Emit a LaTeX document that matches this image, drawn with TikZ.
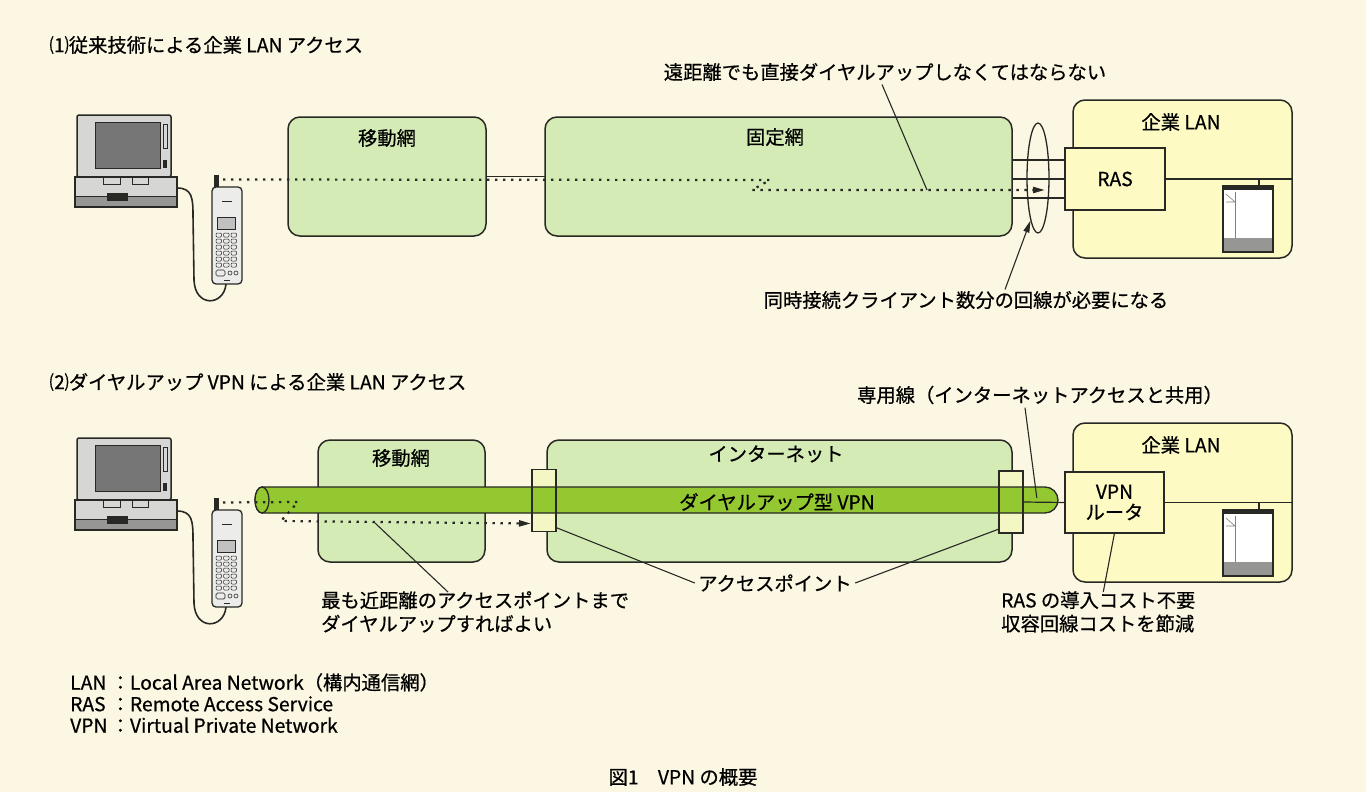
\documentclass[tikz,border=0pt]{standalone}
\usepackage{fontspec}
\setmainfont{Noto Sans CJK JP}[FakeBold=0.6]
\usepackage{tikz}
\usetikzlibrary{arrows.meta,shapes.geometric,calc}

\definecolor{bgcream}{RGB}{252,247,226}
\definecolor{netgreen}{RGB}{212,235,182}
\definecolor{lanyellow}{RGB}{253,250,196}
\definecolor{tubegreen}{RGB}{148,200,48}
\definecolor{appale}{RGB}{244,247,196}
\definecolor{edge}{RGB}{40,40,36}
\definecolor{lapgray}{RGB}{214,214,212}
\definecolor{screengray}{RGB}{118,118,118}
\definecolor{basegray}{RGB}{150,150,148}
\definecolor{phonegray}{RGB}{236,236,234}

\begin{document}
\begin{tikzpicture}[x=1pt,y=1pt,yscale=-1,
  font=\fontsize{19.3}{23.5}\selectfont,
  netbox/.style={draw=edge,fill=netgreen,line width=1.5pt,rounded corners=12pt,inner sep=0pt,outer sep=0pt},
  lanbox/.style={netbox,fill=lanyellow},
  devbox/.style={draw=edge,fill=lanyellow,line width=1.3pt,inner sep=0pt,outer sep=0pt,align=center},
  apbox/.style={draw=edge,fill=appale,line width=1.2pt,inner sep=0pt,outer sep=0pt,minimum width=24pt,minimum height=62pt},
  srvbox/.style={draw=edge,fill=white,line width=1.2pt,inner sep=0pt,outer sep=0pt,minimum width=50pt,minimum height=66pt},
  wire/.style={draw=edge,line width=1.2pt},
  leader/.style={draw=edge,line width=1.1pt},
  dialpath/.style={draw=edge,line width=2.2pt,dash pattern=on 2.4pt off 5.6pt},
  tip/.style={-{Triangle[length=12pt,width=6pt]}},
  txt/.style={inner sep=1pt},
]
\useasboundingbox (0,0) rectangle (1366,792);
\fill[bgcream] (0,0) rectangle (1366,792);

% laptop and handset, one per part
\foreach \oy [count=\i] in {0,323}{
\begin{scope}[shift={(0,\oy)}]
%Laptop lid
\draw[draw=edge,fill=lapgray,line width=1.5pt,rounded corners=2pt] (77,115) rectangle (171,177);
\draw[draw=edge,fill=screengray,line width=0.8pt] (95,122) rectangle (160,168);
\draw[edge,line width=0.6pt] (163,124) rectangle (167,148);
\fill[edge] (163,160) rectangle (167,168);
%Laptop base
\fill[lapgray] (75,177) rectangle (177,207);
\fill[basegray] (75,196) rectangle (177,207);
\draw[edge,line width=0.8pt] (75,196) -- (177,196);
\draw[edge,line width=1.5pt] (75,177) rectangle (177,207);
\draw[edge,line width=0.8pt] (103,177) rectangle (120,184) (132,177) rectangle (148,184);
\fill[edge] (107,193) rectangle (128,201);
%Cord
\draw[edge,line width=1.6pt] (177,188) .. controls (192,188) and (193,198) .. (193,215) -- (194,280) .. controls (195,308) and (224,306) .. (226,284);
%Handset
\fill[edge] (214,175) rectangle (219,188);
\draw[draw=edge,fill=phonegray,line width=1.3pt,rounded corners=4pt] (212,187) rectangle (242,284);
\draw[edge,line width=0.8pt] (222,201) -- (232,201);
\draw[draw=edge,fill=screengray!45,line width=0.7pt] (217,217) rectangle (235,229);
\foreach \c in {0,1,2}
  \foreach \r in {0,...,5}
    \draw[edge,line width=0.5pt,rounded corners=1pt] ({216+\c*7.5},{233+\r*6}) rectangle +(5.5,4);
\draw[edge,line width=0.7pt,rounded corners=1.5pt] (216,270) rectangle (225,276);
\draw[edge,line width=0.6pt] (230,273) circle (2) (236,273) circle (2);
\draw[edge,line width=0.8pt] (224,280) -- (230,280);
\coordinate (ant\i) at (223,179.5);
\end{scope}
}

%Part 1: networks
\node[netbox,minimum width=198pt,minimum height=119pt] (mob1) at (387,176.5) {};
\node[netbox,minimum width=467pt,minimum height=119pt] (fix1) at (778.5,176.5) {};
\node[lanbox,minimum width=219pt,minimum height=158pt] (lan1) at (1182.5,179) {};
\node[devbox,minimum width=100pt,minimum height=62pt] (ras) at (1115,179) {RAS};
\draw[wire] (mob1.east) -- (fix1.west);
\foreach \dy in {-19,0,19}{
  \path ($(ras.west)+(0,\dy)$) coordinate (line);
  \draw[wire] (line) -- (line -| fix1.east);
}
\node[draw=edge,line width=1.3pt,ellipse,minimum width=22pt,minimum height=110pt,inner sep=0pt] (bundle) at (1038,178) {};

%Part 2: networks
\node[netbox,minimum width=167pt,minimum height=122pt] (mob2) at (401.5,501) {};
\node[netbox,minimum width=465pt,minimum height=122pt] (inet) at (779.5,501) {};
\node[lanbox,minimum width=219pt,minimum height=159pt] (lan2) at (1182.5,502.5) {};
\node[devbox,minimum width=99pt,minimum height=61pt] (vpnr) at (1114.5,502.5) {VPN\\[-3pt]ルータ};
\node[apbox] (apL) at (544,500.5) {};
\node[apbox] (apR) at (1011,502) {};

% tunnel
\draw[draw=edge,fill=tubegreen,line width=1.3pt] (262,487) -- (1045,487)
  arc[start angle=-90,end angle=90,radius=13] -- (262,513)
  arc[start angle=90,end angle=270,x radius=7,y radius=13] -- cycle;
\draw[draw=edge,fill=tubegreen,line width=1.3pt] (262,500) ellipse[x radius=7,y radius=13];
\draw[edge,line width=1.2pt] (apL.south west) rectangle (apL.north east);
\draw[edge,line width=1.2pt] (apR.south west) rectangle (apR.north east);
\draw[wire] (apR.east) -- (vpnr.west);

% LAN side: router/RAS to server
\foreach \s/\d in {1/ras,2/vpnr}{
  \node[srvbox,anchor=south east] (srv\s) at ($(lan\s.south east)+(-19,-6)$) {};
  \fill[edge] (srv\s.north west) rectangle ($(srv\s.north east)+(0,4)$);
  \fill[basegray] ($(srv\s.south west)+(0,-14)$) rectangle (srv\s.south east);
  \draw[edge,line width=1.2pt] (srv\s.south west) rectangle (srv\s.north east);
  \draw[gray,line width=0.6pt] ($(srv\s.north west)+(12,6)$) -- ($(srv\s.south west)+(12,-14)$);
  \draw[gray,line width=0.6pt] ($(srv\s.north west)+(3,8)$) -- ($(srv\s.north west)+(12,16)$) -- ($(srv\s.north west)+(3,16)$);
  \draw[wire] (\d.east) -- (\d.east -| lan\s.east);
  \path ($(srv\s.north east)+(-14,0)$) coordinate (stub);
  \draw[wire] (stub) -- (stub |- \d.east);
}

% dial-up paths
\coordinate (longway) at (927,190);
\coordinate (dial) at (375,523);
\draw[dialpath,tip] (ant1) -- (770,180) -- (752,190) -- ($(bundle.center)+(7,12)$);
\draw[dialpath,tip] (ant2) -- (298,502) -- (281,521) -- ($(apL.west)+(-1,23)$);

% Text Node
\node (t1) [anchor=west] at (46,45) {⑴従来技術による企業 LAN アクセス};
\node (t2) [anchor=west] at (46,382) {⑵ダイヤルアップ VPN による企業 LAN アクセス};
\node (mob1t) at (387,138) {移動網};
\node (fix1t) at (775,137) {固定網};
\node (lan1t) at (1181,122) {企業 LAN};
\node (far) at (885,72) {遠距離でも直接ダイヤルアップしなくてはならない};
\node (need) at (966,300) {同時接続クライアント数分の回線が必要になる};
\node (mob2t) at (401,458) {移動網};
\node (inett) at (776,454) {インターネット};
\node (lan2t) at (1181,445) {企業 LAN};
\node (vpnt) at (777,502) {ダイヤルアップ型 VPN};
\node (lease) at (1040,395) {専用線（インターネットアクセスと共用）};
\node (near) [anchor=north west,align=left,txt] at (320,590) {最も近距離のアクセスポイントまで\\ダイヤルアップすればよい};
\node (ap) at (775,583) {アクセスポイント};
\node (cost) [anchor=north west,align=left,txt] at (1000,590) {RAS の導入コスト不要\\収容回線コストを節減};
\node (legend) [anchor=north west,inner sep=0pt] at (70,673) {\begin{tabular}{@{}l@{\,：}l@{}}
LAN & Local Area Network（構内通信網）\\[-2pt]
RAS & Remote Access Service\\[-2pt]
VPN & Virtual Private Network
\end{tabular}};
\node (caption) at (683,777) {図1　VPN の概要};

% leaders
\draw[leader] ($(far.south)+(-3,0)$) -- (longway);
\draw[leader,tip] ($(need.north)+(39,2)$) -- (bundle.-100);
\draw[leader] ($(near.north west)+(128,2)$) -- (dial);
\draw[leader] (ap.west) -- ($(apL.south east)+(0,-4)$);
\draw[leader] (ap.east) -- ($(apR.south west)+(0,-4)$);
\draw[leader] ($(cost.north)+(5,2)$) -- (vpnr.south);
\draw[leader] ($(lease.south)+(-15,0)$) -- ($(apR.east)!0.33!(vpnr.west)+(0,-4)$);

\end{tikzpicture}
\end{document}
